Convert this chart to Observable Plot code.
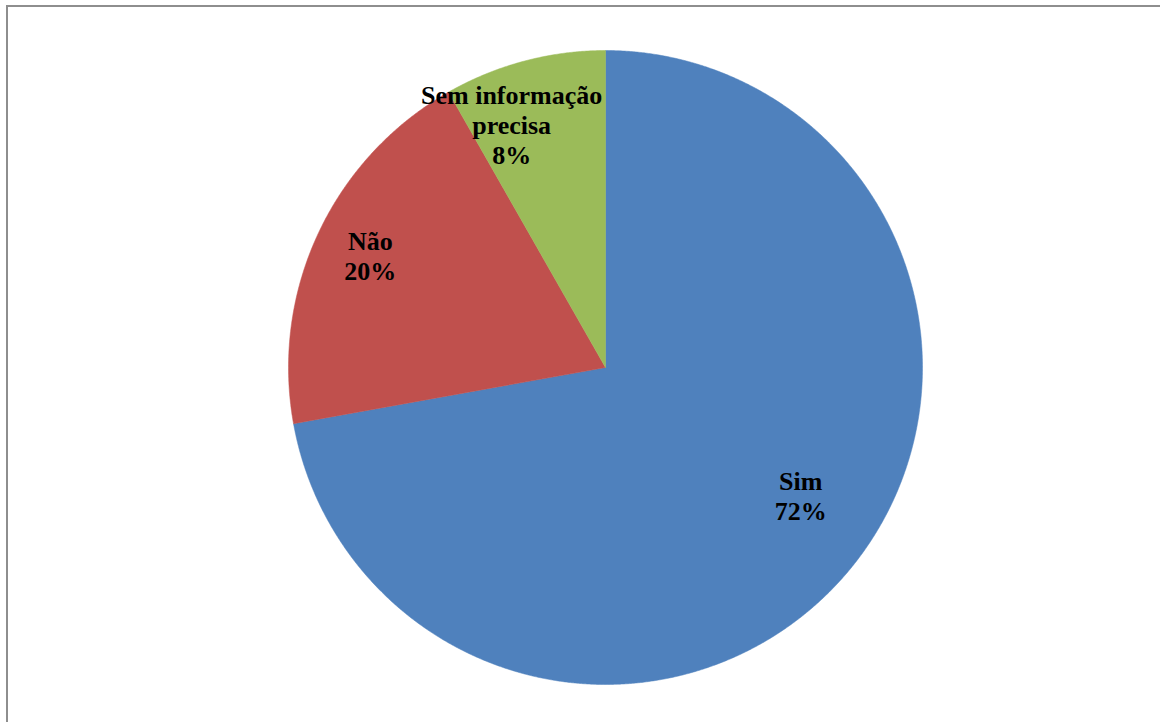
<!DOCTYPE html>
<html><head><meta charset="utf-8">
<script src="https://cdn.jsdelivr.net/npm/d3@7"></script>
<script src="https://cdn.jsdelivr.net/npm/@observablehq/plot@0.6"></script>
<style>
body{margin:0;background:#fff;overflow:hidden;position:relative}
#frame{position:absolute;left:6px;top:5px;width:1300px;height:900px;border-left:2px solid #8e8e8e;border-top:2px solid #8e8e8e;pointer-events:none}
</style>
</head><body><div id="chart"></div><div id="frame"></div>
<script>
// Data (counts; labels show rounded shares)
const categories = ["Sim", "Não", "Sem informação precisa"];
const labelTexts = ["Sim", "Não", "Sem informação\nprecisa"];
const counts = [70, 19, 8];
const colors = ["#4F81BD", "#C0504D", "#9BBB59"];

// Layout (not data)
const W = 1160, H = 722, CX = 605, CY = 367, R = 317;
const labelRadius = [0.73, 0.81, 0.82];
const labelNudge = [[0.056, 0.066], [-0.008, 0.011], [-0.086, -0.025]];

const total = d3.sum(counts);
const slices = [];
const labels = [];
let start = 0;
categories.forEach((cat, i) => {
  const a0 = start, a1 = start + counts[i] / total * 2 * Math.PI;
  start = a1;
  slices.push({cat, x: 0, y: 0});
  const n = Math.max(2, Math.ceil((a1 - a0) / (Math.PI / 720)));
  for (let k = 0; k <= n; k++) {
    const a = a0 + (a1 - a0) * k / n;
    slices.push({cat, x: Math.sin(a), y: Math.cos(a)});
  }
  slices.push({cat, x: 0, y: 0});
  const m = (a0 + a1) / 2;
  labels.push({
    text: `${labelTexts[i]}\n${Math.round(counts[i] / total * 100)}%`,
    x: Math.sin(m) * labelRadius[i] + labelNudge[i][0],
    y: Math.cos(m) * labelRadius[i] + labelNudge[i][1]
  });
});

const chart = Plot.plot({
  width: W, height: H,
  margin: 0,
  x: {domain: [-CX / R, (W - CX) / R], range: [0, W], axis: null},
  y: {domain: [-(H - CY) / R, CY / R], range: [H, 0], axis: null},
  color: {domain: categories, range: colors},
  style: {background: "#fff"},
  marks: [
    Plot.line(slices, {x: "x", y: "y", z: "cat", fill: "cat", stroke: "cat", strokeWidth: 0.5}),
    Plot.text(labels, {
      x: "x", y: "y", text: "text",
      fontSize: 26, fontWeight: "bold",
      fontFamily: "'Liberation Serif', 'Times New Roman', serif",
      lineHeight: 1.15, fill: "#000", textAnchor: "middle"
    })
  ]
});
document.getElementById("chart").appendChild(chart);
</script>
</body></html>
